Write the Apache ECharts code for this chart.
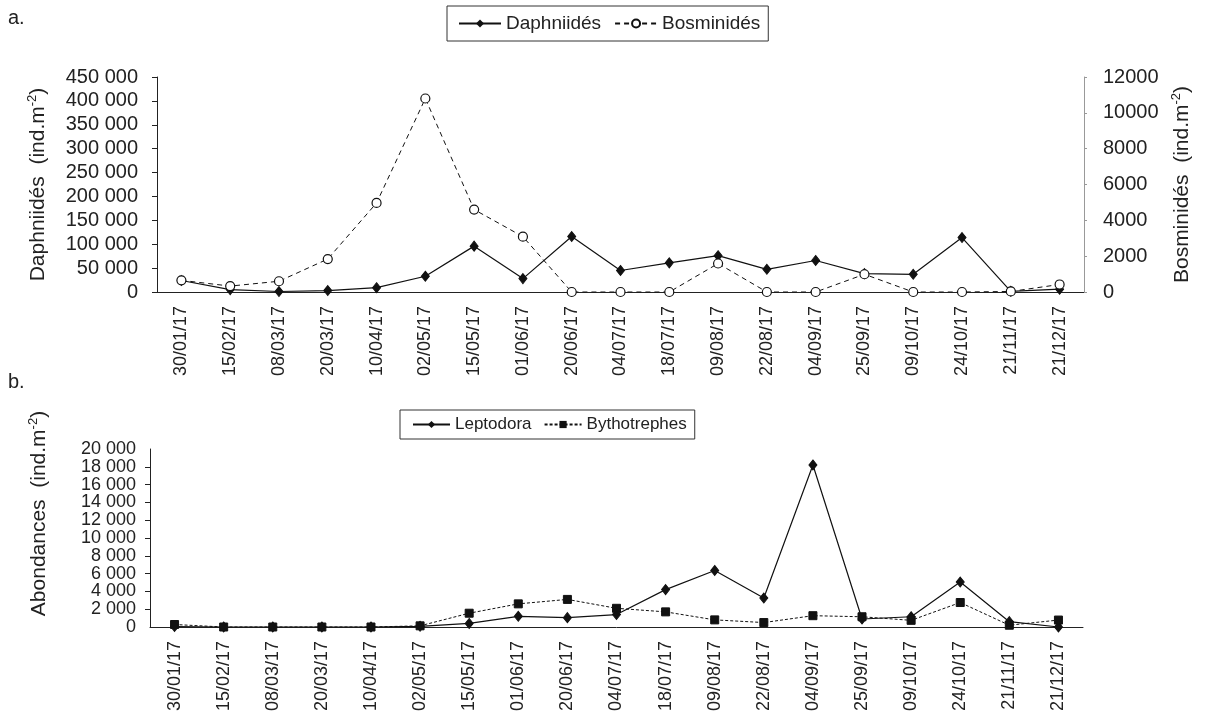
<!DOCTYPE html>
<html>
<head>
<meta charset="utf-8">
<title>Cladocères 2017</title>
<script src="https://cdn.jsdelivr.net/npm/echarts@6/dist/echarts.min.js"></script>
<style>
  html, body { margin: 0; padding: 0; background: #fff; }
  #chart { width: 1205px; height: 715px; }
</style>
</head>
<body>
<div id="chart"></div>
<script>
// Sampling dates (shared by both panels)
const dates = ['30/01/17', '15/02/17', '08/03/17', '20/03/17', '10/04/17', '02/05/17', '15/05/17',
  '01/06/17', '20/06/17', '04/07/17', '18/07/17', '09/08/17', '22/08/17', '04/09/17', '25/09/17',
  '09/10/17', '24/10/17', '21/11/17', '21/12/17'];

// Panel a: Daphniidés (left axis) and Bosminidés (right axis), ind.m-2
const daphniides = [24000, 5000, 1000, 3000, 9000, 33000, 96000, 28000, 116000, 45000, 61000,
  76000, 47500, 66000, 38500, 37000, 114000, 1500, 6000];
const bosminides = [650, 330, 600, 1840, 4970, 10800, 4600, 3090, 0, 0, 0, 1590, 0, 0, 990,
  0, 0, 30, 420];

// Panel b: Leptodora and Bythotrephes abundances, ind.m-2
const leptodora = [50, 0, 0, 0, 0, 80, 400, 1200, 1050, 1400, 4200, 6350, 3250, 18200, 900,
  1150, 5050, 600, 0];
const bythotrephes = [280, 0, 0, 0, 0, 130, 1550, 2600, 3100, 2100, 1700, 800, 500, 1270, 1150,
  750, 2750, 200, 780];

// Panel b value axis range
const abMin = 0, abMax = 20000, abStep = 2000;

const TEXT = '#222';
const FONT = 'Liberation Sans, Arial, sans-serif';

// "450 000" style thousands grouping
const spaced = v => String(v).replace(/\B(?=(\d{3})+(?!\d))/g, ' ');
const plain = v => String(v);
// the dense lower axis is labelled in two passes: inner ticks, then both ends
const innerOnly = v => (v === abMin || v === abMax) ? '' : spaced(v);
const endsOnly = v => (v === abMin || v === abMax) ? spaced(v) : '';

const catAxis = (gridIndex) => ({
  type: 'category',
  gridIndex,
  data: dates,
  boundaryGap: true,
  axisLine: { lineStyle: { color: '#222', width: 1 } },
  axisTick: { length: 5, lineStyle: { color: '#222' } },
  axisLabel: { rotate: 90, margin: 14, color: TEXT, fontSize: 18, fontFamily: FONT, interval: 0 },
  splitLine: { show: false }
});

// axis title with a superscript exponent
const supRich = (size) => ({
  base: { fontSize: size, fontFamily: FONT, color: TEXT, lineHeight: size + 4 },
  sup: { fontSize: Math.round(size * 0.6), fontFamily: FONT, color: TEXT, verticalAlign: 'top', lineHeight: size + 4 }
});

const chart = echarts.init(document.getElementById('chart'), null, { renderer: 'canvas' });

chart.setOption({
  animation: false,
  backgroundColor: '#fff',
  textStyle: { fontFamily: FONT, color: TEXT },
  graphic: [
    { type: 'text', left: 8, top: 8, style: { text: 'a.', fontSize: 20, fontFamily: FONT, fill: TEXT } },
    { type: 'text', left: 8, top: 372, style: { text: 'b.', fontSize: 20, fontFamily: FONT, fill: TEXT } }
  ],
  legend: [
    {
      left: 447, top: 6,
      padding: [8, 8, 8, 11],
      itemGap: 13,
      itemWidth: 42, itemHeight: 10,
      borderColor: '#333', borderWidth: 1,
      textStyle: { fontSize: 19, fontFamily: FONT, color: TEXT },
      data: ['Daphniidés', 'Bosminidés']
    },
    {
      left: 400, top: 410,
      padding: [6, 8, 6, 12],
      itemGap: 12,
      itemWidth: 37, itemHeight: 9,
      borderColor: '#333', borderWidth: 1,
      textStyle: { fontSize: 17, fontFamily: FONT, color: TEXT },
      data: ['Leptodora', 'Bythotrephes']
    }
  ],
  grid: [
    { left: 157, top: 77, width: 927, height: 215, outerBoundsMode: 'none', containLabel: false },
    { left: 150, top: 449, width: 933, height: 178, outerBoundsMode: 'none', containLabel: false }
  ],
  xAxis: [catAxis(0), catAxis(1)],
  yAxis: [
    {
      type: 'value', gridIndex: 0, position: 'left',
      min: 0, max: 450000, interval: 50000,
      name: '{base|Daphniidés  (ind.m}{sup|-2}{base|)}',
      nameLocation: 'middle', nameGap: 106, nameRotate: 90,
      nameTextStyle: { rich: supRich(21) },
      axisLine: { show: true, lineStyle: { color: '#222' } },
      axisTick: { show: true, length: 5, lineStyle: { color: '#222' } },
      axisLabel: { margin: 19, color: TEXT, fontSize: 20, fontFamily: FONT, formatter: spaced,
        showMinLabel: true, showMaxLabel: true, hideOverlap: false },
      splitLine: { show: false }
    },
    {
      type: 'value', gridIndex: 0, position: 'right',
      min: 0, max: 12000, interval: 2000,
      name: '{base|Bosminidés  (ind.m}{sup|-2}{base|)}',
      nameLocation: 'middle', nameGap: 86, nameRotate: 90,
      nameTextStyle: { rich: supRich(21) },
      axisLine: { show: true, lineStyle: { color: '#999' } },
      axisTick: { show: true, length: 3, lineStyle: { color: '#999' } },
      axisLabel: { margin: 19, color: TEXT, fontSize: 20, fontFamily: FONT, formatter: plain,
        showMinLabel: true, showMaxLabel: true, hideOverlap: false },
      splitLine: { show: false }
    },
    {
      type: 'value', gridIndex: 1, position: 'left',
      min: abMin, max: abMax, interval: abStep,
      name: '{base|Abondances  (ind.m}{sup|-2}{base|)}',
      nameLocation: 'middle', nameGap: 98, nameRotate: 90,
      nameTextStyle: { rich: supRich(21), padding: [0, 0, 0, 49] },
      axisLine: { show: true, lineStyle: { color: '#222' } },
      axisTick: { show: true, length: 5, lineStyle: { color: '#222' } },
      axisLabel: { margin: 14, color: TEXT, fontSize: 18, fontFamily: FONT, formatter: innerOnly,
        showMinLabel: false, showMaxLabel: false, hideOverlap: false },
      splitLine: { show: false }
    },
    {
      type: 'value', gridIndex: 1, position: 'left',
      min: abMin, max: abMax, interval: abStep,
      axisLine: { show: false },
      axisTick: { show: false },
      axisLabel: { margin: 14, color: TEXT, fontSize: 18, fontFamily: FONT, formatter: endsOnly,
        showMinLabel: true, showMaxLabel: true, hideOverlap: false },
      splitLine: { show: false }
    }
  ],
  series: [
    {
      name: 'Daphniidés', type: 'line', xAxisIndex: 0, yAxisIndex: 0,
      data: daphniides,
      symbol: 'diamond', symbolSize: [8, 10],
      itemStyle: { color: '#111', borderColor: '#111' },
      lineStyle: { color: '#111', width: 1.2, type: 'solid' }
    },
    {
      name: 'Bosminidés', type: 'line', xAxisIndex: 0, yAxisIndex: 1,
      data: bosminides,
      symbol: 'circle', symbolSize: 9,
      itemStyle: { color: '#fff', borderColor: '#111', borderWidth: 1.2 },
      lineStyle: { color: '#111', width: 1, type: [5, 4] }
    },
    {
      name: 'Leptodora', type: 'line', xAxisIndex: 1, yAxisIndex: 2,
      data: leptodora,
      symbol: 'diamond', symbolSize: [8, 10],
      itemStyle: { color: '#111', borderColor: '#111' },
      lineStyle: { color: '#111', width: 1.2, type: 'solid' }
    },
    {
      name: 'Bythotrephes', type: 'line', xAxisIndex: 1, yAxisIndex: 2,
      data: bythotrephes,
      symbol: 'rect', symbolSize: 8,
      itemStyle: { color: '#111', borderColor: '#111' },
      lineStyle: { color: '#111', width: 1, type: [3, 2] }
    }
  ]
});
</script>
</body>
</html>
